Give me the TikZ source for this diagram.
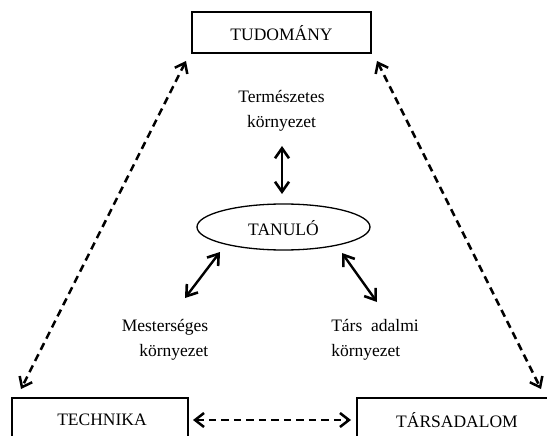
\documentclass[tikz,border=0pt]{standalone}
\usepackage{fontspec}
\setmainfont{Liberation Serif}
\usetikzlibrary{arrows.meta,shapes.geometric}
\begin{document}
\begin{tikzpicture}[x=1pt,y=-1pt,
  every node/.style={font=\fontsize{17.5}{25}\selectfont},
  solidarrow/.style={line width=2.4pt,{Straight Barb[length=10pt,width=14pt,line width=2.6pt]}-{Straight Barb[length=10pt,width=14pt,line width=2.6pt]}},
  dasharrow/.style={line width=2.5pt,dash pattern=on 7.5pt off 5pt,{Straight Barb[length=9pt,width=14pt,line width=2.5pt]}-{Straight Barb[length=9pt,width=14pt,line width=2.5pt]}},
  txt/.style={align=center,inner sep=0pt}]
\useasboundingbox (0,0) rectangle (547,436);
\begin{scope}
\clip (0,0) rectangle (547,436);
\draw[line width=1.4pt] (192,12) rectangle (371,53);
\draw[line width=1.4pt] (12,398) rectangle (188,460);
\draw[line width=1.4pt] (357,398) rectangle (570,460);
\end{scope}
\node (tudtxt) at (281.5,33) {TUDOMÁNY};
\node (tech) at (102,420) {TECHNIKA};
\node (tars) at (457,420) {TÁRSADALOM};
\coordinate (tudL) at (186,61);
\coordinate (tudR) at (377,61);
\coordinate (techT) at (21,389);
\coordinate (techR) at (193,420);
\coordinate (tarsT) at (541,389);
\coordinate (tarsL) at (351,420);
\draw[dasharrow] (tudL) -- (techT);
\draw[dasharrow] (tudR) -- (tarsT);
\draw[dasharrow] (techR) -- (tarsL);
\node[txt] (term) at (281.5,111) {Természetes\\környezet};
\node[draw,ellipse,line width=1.3pt,minimum width=173pt,minimum height=46pt,inner sep=0pt] (tan) at (283.5,227) {};
\node (tantxt) at (283.5,228) {TANULÓ};
\coordinate (vT) at (282,146);
\coordinate (vB) at (282,194);
\draw[solidarrow] (vT) -- (vB);
\coordinate (lT) at (220,252);
\coordinate (lB) at (185,298);
\draw[solidarrow] (lT) -- (lB);
\coordinate (rT) at (342,253);
\coordinate (rB) at (377,302);
\draw[solidarrow] (rT) -- (rB);
\node[txt,align=right] (mest) at (165,340) {Mesterséges\\környezet};
\node[txt,align=left] (tarsad) at (375,340) {Társ\ \ adalmi\\környezet};
\end{tikzpicture}
\end{document}
